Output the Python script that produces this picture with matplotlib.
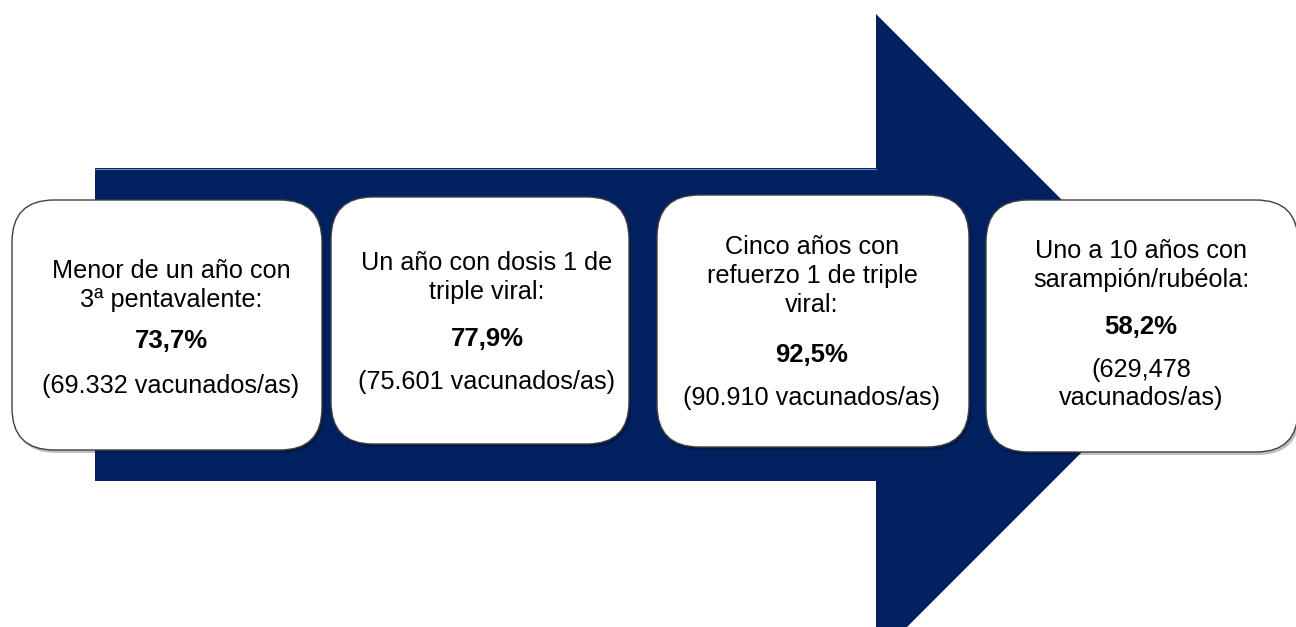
import matplotlib
matplotlib.use("Agg")
import matplotlib.pyplot as plt
from matplotlib.patches import Polygon, FancyBboxPatch

# texts of the four stages
headers = ["Menor de un año con\n3ª pentavalente:",
           "Un año con dosis 1 de\ntriple viral:",
           "Cinco años con\nrefuerzo 1 de triple\nviral:",
           "Uno a 10 años con\nsarampión/rubéola:"]
percents = ["73,7%", "77,9%", "92,5%", "58,2%"]
counts = ["(69.332 vacunados/as)", "(75.601 vacunados/as)",
          "(90.910 vacunados/as)", "(629,478\nvacunados/as)"]

# layout in pixels (x0, y0, x1, y1) and text anchors
boxes = [(12, 200, 322, 450), (331, 197, 629, 444),
         (657, 195, 969, 447), (986, 200, 1298, 452)]
text_x = [171, 487, 812, 1141]
header_y = [268, 261, 244, 248]
pct_y = [339, 337, 353, 324]
cnt_y = [383, 380, 396, 367]
step = 29

navy = "#002060"
fonts = ["Liberation Sans", "DejaVu Sans"]

fig = plt.figure(figsize=(12.96, 6.27), dpi=100)
ax = fig.add_axes([0, 0, 1, 1])
ax.set_xlim(0, 1296)
ax.set_ylim(627, 0)
ax.axis("off")

# big arrow
arrow = Polygon([(95, 168), (876, 168), (876, 14), (1198, 336),
                 (876, 658), (876, 481), (95, 481)],
                closed=True, facecolor=navy, edgecolor="none", zorder=1)
ax.add_patch(arrow)
ax.plot([95, 876], [168.5, 168.5], color="#6f8fc8", lw=0.8, zorder=1.5)


def lines(cx, y, txt, **kw):
    for k, s in enumerate(txt.split("\n")):
        ax.text(cx, y + k * step, s, ha="center", va="center_baseline",
                family=fonts, color="black", zorder=4, **kw)


for i, (x0, y0, x1, y1) in enumerate(boxes):
    # soft shadow then box
    sh = FancyBboxPatch((x0 + 2, y0 + 3), x1 - x0, y1 - y0,
                        boxstyle="round,pad=0,rounding_size=42",
                        facecolor="#000000", alpha=0.25, edgecolor="none", zorder=2)
    ax.add_patch(sh)
    b = FancyBboxPatch((x0, y0), x1 - x0, y1 - y0,
                       boxstyle="round,pad=0,rounding_size=42",
                       facecolor="white", edgecolor="#404040", lw=1.0, zorder=3)
    ax.add_patch(b)
    cx = text_x[i]
    lines(cx, header_y[i], headers[i], fontsize=18.2)
    lines(cx, pct_y[i], percents[i], fontsize=18.5, weight="bold")
    lines(cx, cnt_y[i], counts[i], fontsize=18.2)

fig.savefig("out.png", dpi=100)
